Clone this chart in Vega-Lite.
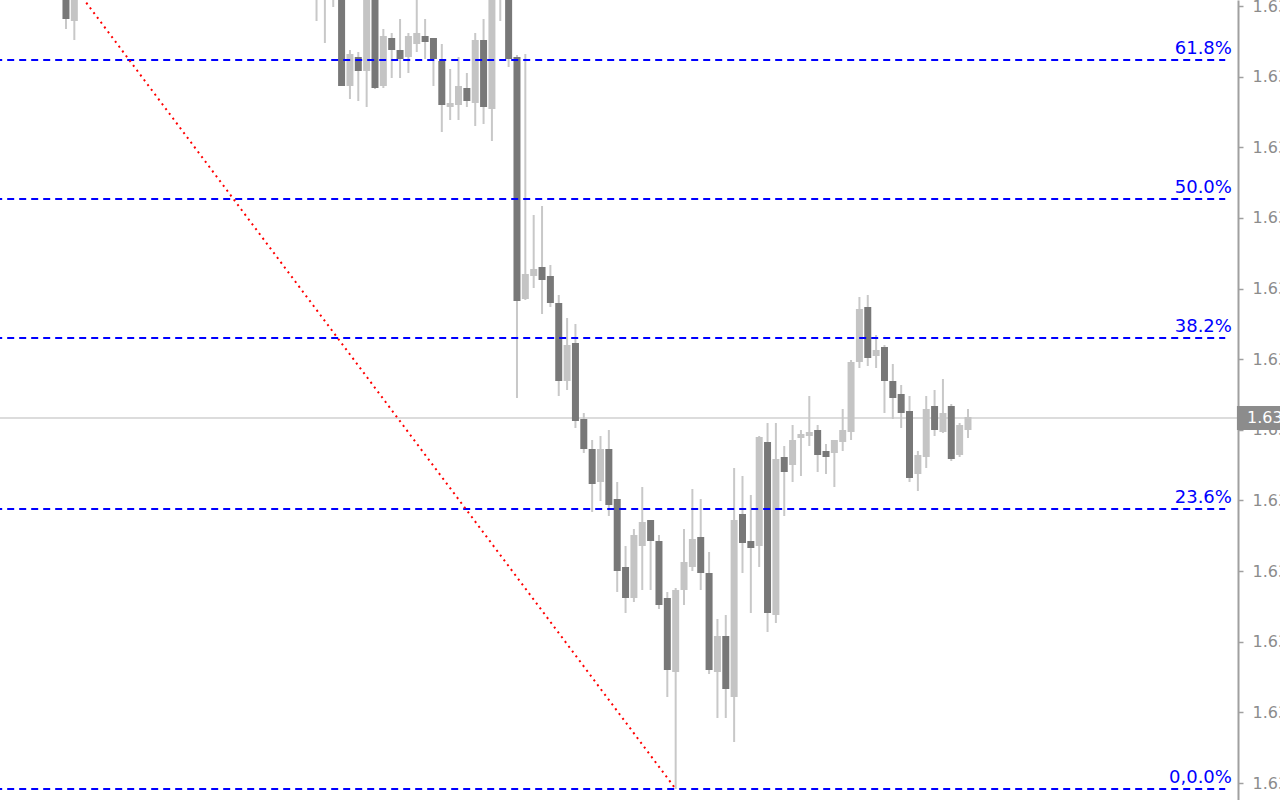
{
  "$schema": "https://vega.github.io/schema/vega-lite/v6.json",
  "width": 1238,
  "height": 800,
  "autosize": {"type": "none"},
  "padding": {"left": 0, "top": 0, "right": 42, "bottom": 0},
  "background": "#ffffff",
  "config": {"view": {"stroke": null}},
  "datasets": {
    "candles": [
      {"i":0,"o":1.64030,"h":1.64040,"l":1.63971,"c":1.63981},
      {"i":1,"o":1.63979,"h":1.64030,"l":1.63960,"c":1.64020},
      {"i":30,"o":1.64015,"h":1.64040,"l":1.63979,"c":1.64030},
      {"i":31,"o":1.64010,"h":1.64035,"l":1.63957,"c":1.64025},
      {"i":32,"o":1.64008,"h":1.64030,"l":1.63993,"c":1.64020},
      {"i":33,"o":1.64020,"h":1.64025,"l":1.63914,"c":1.63914},
      {"i":34,"o":1.63914,"h":1.63950,"l":1.63901,"c":1.63946},
      {"i":35,"o":1.63943,"h":1.63948,"l":1.63899,"c":1.63929},
      {"i":36,"o":1.63929,"h":1.64010,"l":1.63893,"c":1.64005},
      {"i":37,"o":1.64010,"h":1.64015,"l":1.63911,"c":1.63912},
      {"i":38,"o":1.63914,"h":1.63971,"l":1.63912,"c":1.63964},
      {"i":39,"o":1.63962,"h":1.63967,"l":1.63922,"c":1.63950},
      {"i":40,"o":1.63950,"h":1.63981,"l":1.63922,"c":1.63941},
      {"i":41,"o":1.63943,"h":1.63967,"l":1.63927,"c":1.63964},
      {"i":42,"o":1.63956,"h":1.64005,"l":1.63948,"c":1.63967},
      {"i":43,"o":1.63964,"h":1.63981,"l":1.63941,"c":1.63958},
      {"i":44,"o":1.63962,"h":1.63962,"l":1.63914,"c":1.63941},
      {"i":45,"o":1.63939,"h":1.63956,"l":1.63868,"c":1.63895},
      {"i":46,"o":1.63893,"h":1.63931,"l":1.63880,"c":1.63897},
      {"i":47,"o":1.63895,"h":1.63943,"l":1.63880,"c":1.63914},
      {"i":48,"o":1.63912,"h":1.63927,"l":1.63893,"c":1.63899},
      {"i":49,"o":1.63897,"h":1.63967,"l":1.63874,"c":1.63960},
      {"i":50,"o":1.63960,"h":1.63981,"l":1.63876,"c":1.63893},
      {"i":51,"o":1.63891,"h":1.64015,"l":1.63859,"c":1.64010},
      {"i":52,"o":1.64020,"h":1.64030,"l":1.63979,"c":1.64005},
      {"i":53,"o":1.64010,"h":1.64015,"l":1.63933,"c":1.63941},
      {"i":54,"o":1.63943,"h":1.63945,"l":1.63602,"c":1.63699},
      {"i":55,"o":1.63701,"h":1.63946,"l":1.63700,"c":1.63726},
      {"i":56,"o":1.63724,"h":1.63785,"l":1.63712,"c":1.63731},
      {"i":57,"o":1.63733,"h":1.63794,"l":1.63686,"c":1.63720},
      {"i":58,"o":1.63724,"h":1.63735,"l":1.63693,"c":1.63697},
      {"i":59,"o":1.63697,"h":1.63705,"l":1.63604,"c":1.63619},
      {"i":60,"o":1.63619,"h":1.63682,"l":1.63610,"c":1.63655},
      {"i":61,"o":1.63657,"h":1.63676,"l":1.63572,"c":1.63579},
      {"i":62,"o":1.63581,"h":1.63587,"l":1.63547,"c":1.63551},
      {"i":63,"o":1.63551,"h":1.63560,"l":1.63488,"c":1.63516},
      {"i":64,"o":1.63518,"h":1.63564,"l":1.63499,"c":1.63551},
      {"i":65,"o":1.63551,"h":1.63570,"l":1.63484,"c":1.63495},
      {"i":66,"o":1.63501,"h":1.63518,"l":1.63408,"c":1.63429},
      {"i":67,"o":1.63433,"h":1.63454,"l":1.63387,"c":1.63402},
      {"i":68,"o":1.63402,"h":1.63471,"l":1.63398,"c":1.63465},
      {"i":69,"o":1.63454,"h":1.63513,"l":1.63410,"c":1.63478},
      {"i":70,"o":1.63480,"h":1.63480,"l":1.63410,"c":1.63459},
      {"i":71,"o":1.63459,"h":1.63465,"l":1.63391,"c":1.63395},
      {"i":72,"o":1.63402,"h":1.63408,"l":1.63303,"c":1.63330},
      {"i":73,"o":1.63328,"h":1.63412,"l":1.63211,"c":1.63410},
      {"i":74,"o":1.63410,"h":1.63471,"l":1.63395,"c":1.63438},
      {"i":75,"o":1.63433,"h":1.63511,"l":1.63429,"c":1.63461},
      {"i":76,"o":1.63463,"h":1.63501,"l":1.63410,"c":1.63427},
      {"i":77,"o":1.63427,"h":1.63448,"l":1.63326,"c":1.63330},
      {"i":78,"o":1.63328,"h":1.63381,"l":1.63282,"c":1.63364},
      {"i":79,"o":1.63364,"h":1.63385,"l":1.63282,"c":1.63311},
      {"i":80,"o":1.63303,"h":1.63532,"l":1.63258,"c":1.63480},
      {"i":81,"o":1.63486,"h":1.63524,"l":1.63427,"c":1.63457},
      {"i":82,"o":1.63459,"h":1.63505,"l":1.63387,"c":1.63452},
      {"i":83,"o":1.63454,"h":1.63564,"l":1.63433,"c":1.63563},
      {"i":84,"o":1.63558,"h":1.63577,"l":1.63368,"c":1.63387},
      {"i":85,"o":1.63385,"h":1.63577,"l":1.63377,"c":1.63541},
      {"i":86,"o":1.63543,"h":1.63554,"l":1.63484,"c":1.63528},
      {"i":87,"o":1.63535,"h":1.63575,"l":1.63518,"c":1.63560},
      {"i":88,"o":1.63562,"h":1.63570,"l":1.63524,"c":1.63566},
      {"i":89,"o":1.63564,"h":1.63604,"l":1.63554,"c":1.63568},
      {"i":90,"o":1.63570,"h":1.63575,"l":1.63528,"c":1.63545},
      {"i":91,"o":1.63549,"h":1.63556,"l":1.63526,"c":1.63543},
      {"i":92,"o":1.63547,"h":1.63560,"l":1.63513,"c":1.63560},
      {"i":93,"o":1.63558,"h":1.63591,"l":1.63549,"c":1.63570},
      {"i":94,"o":1.63568,"h":1.63640,"l":1.63560,"c":1.63638},
      {"i":95,"o":1.63638,"h":1.63703,"l":1.63632,"c":1.63691},
      {"i":96,"o":1.63693,"h":1.63705,"l":1.63634,"c":1.63642},
      {"i":97,"o":1.63644,"h":1.63665,"l":1.63632,"c":1.63650},
      {"i":98,"o":1.63653,"h":1.63655,"l":1.63587,"c":1.63619},
      {"i":99,"o":1.63619,"h":1.63636,"l":1.63581,"c":1.63602},
      {"i":100,"o":1.63606,"h":1.63615,"l":1.63572,"c":1.63587},
      {"i":101,"o":1.63589,"h":1.63604,"l":1.63518,"c":1.63522},
      {"i":102,"o":1.63526,"h":1.63549,"l":1.63509,"c":1.63545},
      {"i":103,"o":1.63543,"h":1.63604,"l":1.63532,"c":1.63591},
      {"i":104,"o":1.63594,"h":1.63610,"l":1.63564,"c":1.63570},
      {"i":105,"o":1.63568,"h":1.63621,"l":1.63567,"c":1.63587},
      {"i":106,"o":1.63594,"h":1.63596,"l":1.63539,"c":1.63541},
      {"i":107,"o":1.63545,"h":1.63577,"l":1.63543,"c":1.63575},
      {"i":108,"o":1.63570,"h":1.63591,"l":1.63562,"c":1.63583}
    ],
    "fib": [
      {"label":"61.8%","p":1.63940},
      {"label":"50.0%","p":1.63801},
      {"label":"38.2%","p":1.63662},
      {"label":"23.6%","p":1.63491},
      {"label":"0,0.0%","p":1.63211}
    ],
    "trend": [
      {"i":-32.9,"p":1.64391},
      {"i":73,"p":1.63211}
    ],
    "last": [
      {"p":1.63582,"label":"1.6358"}
    ]
  },
  "layer": [
    {
      "data": {"name": "last"},
      "mark": {"type": "rule", "color": "#dcdcdc", "strokeWidth": 2},
      "encoding": {
        "y": {"field": "p", "type": "quantitative", "scale": {"domain": [1.632, 1.640], "nice": false, "zero": false},
          "axis": {"orient": "right", "title": null, "grid": false,
            "values": [1.63994, 1.6392336, 1.6385273, 1.6378209, 1.6371145, 1.6364082, 1.6357018, 1.6349955, 1.6342891, 1.6335827, 1.6328764, 1.63217],
            "format": ".4f", "domainColor": "#a0a0a0", "domainWidth": 2, "tickColor": "#a0a0a0", "tickSize": 5, "tickWidth": 1.5,
            "labelPadding": 9, "labelFont": "DejaVu Sans", "labelFontSize": 16, "labelColor": "#8c8c8c",
            "labelOverlap": false, "labelBound": false, "labelFlush": false, "labelLimit": 0}}
      }
    },
    {
      "data": {"name": "candles"},
      "mark": {"type": "rule", "color": "#c8c8c8", "strokeWidth": 2, "clip": true},
      "encoding": {
        "x": {"field": "i", "type": "quantitative", "scale": {"domain": [-7.30, 139.73], "nice": false, "zero": false}, "axis": null},
        "y": {"field": "l", "type": "quantitative", "scale": {"domain": [1.632, 1.640], "nice": false, "zero": false}},
        "y2": {"field": "h"}
      }
    },
    {
      "data": {"name": "candles"},
      "mark": {"type": "bar", "width": 7, "clip": true},
      "encoding": {
        "x": {"field": "i", "type": "quantitative", "scale": {"domain": [-7.30, 139.73], "nice": false, "zero": false}, "axis": null},
        "y": {"field": "o", "type": "quantitative", "scale": {"domain": [1.632, 1.640], "nice": false, "zero": false}},
        "y2": {"field": "c"},
        "color": {"condition": {"test": "datum.o > datum.c", "value": "#787878"}, "value": "#c4c4c4"}
      }
    },
    {
      "data": {"name": "fib"},
      "mark": {"type": "rule", "color": "#0000ff", "strokeWidth": 2, "strokeDash": [7, 5], "clip": true},
      "encoding": {
        "x": {"datum": -32.9, "type": "quantitative", "scale": {"domain": [-7.30, 139.73], "nice": false, "zero": false}},
        "x2": {"datum": 138.8},
        "y": {"field": "p", "type": "quantitative", "scale": {"domain": [1.632, 1.640], "nice": false, "zero": false}}
      }
    },
    {
      "data": {"name": "fib"},
      "mark": {"type": "text", "color": "#0000ff", "font": "DejaVu Sans", "fontSize": 18, "align": "right", "baseline": "alphabetic", "dy": -6},
      "encoding": {
        "x": {"datum": 139.6, "type": "quantitative", "scale": {"domain": [-7.30, 139.73], "nice": false, "zero": false}},
        "y": {"field": "p", "type": "quantitative", "scale": {"domain": [1.632, 1.640], "nice": false, "zero": false}},
        "text": {"field": "label"}
      }
    },
    {
      "data": {"name": "trend"},
      "mark": {"type": "line", "color": "#ff0000", "strokeWidth": 2, "strokeDash": [2, 4], "clip": true},
      "encoding": {
        "x": {"field": "i", "type": "quantitative", "scale": {"domain": [-7.30, 139.73], "nice": false, "zero": false}},
        "y": {"field": "p", "type": "quantitative", "scale": {"domain": [1.632, 1.640], "nice": false, "zero": false}}
      }
    },
    {
      "data": {"name": "last"},
      "mark": {"type": "rect", "color": "#8c8c8c", "clip": false},
      "encoding": {
        "x": {"datum": 140.2, "type": "quantitative", "scale": {"domain": [-7.30, 139.73], "nice": false, "zero": false}},
        "x2": {"datum": 147},
        "y": {"datum": 1.63594, "type": "quantitative", "scale": {"domain": [1.632, 1.640], "nice": false, "zero": false}},
        "y2": {"datum": 1.63570}
      }
    },
    {
      "data": {"name": "last"},
      "mark": {"type": "text", "color": "#ffffff", "font": "DejaVu Sans", "fontSize": 16, "align": "left", "baseline": "middle", "clip": false},
      "encoding": {
        "x": {"datum": 141.4, "type": "quantitative", "scale": {"domain": [-7.30, 139.73], "nice": false, "zero": false}},
        "y": {"field": "p", "type": "quantitative", "scale": {"domain": [1.632, 1.640], "nice": false, "zero": false}},
        "text": {"field": "label"}
      }
    }
  ]
}
